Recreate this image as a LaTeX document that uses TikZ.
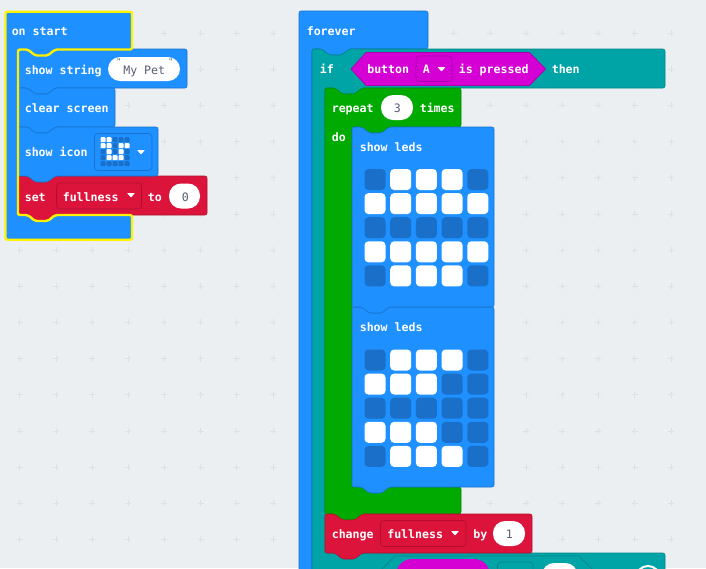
\documentclass[tikz,border=0pt]{standalone}
\usepackage{fontspec}
\setmonofont{DejaVu Sans Mono}
\definecolor{pagebg}{HTML}{ECEFF1}
\definecolor{gridplus}{HTML}{DDE0E2}
\definecolor{blockblue}{HTML}{1E90FF}
\definecolor{edgeblue}{HTML}{1873CC}
\definecolor{ledoff}{HTML}{1A6FC9}
\definecolor{blockred}{HTML}{DC143C}
\definecolor{edgered}{HTML}{B01030}
\definecolor{blockteal}{HTML}{00A4A6}
\definecolor{edgeteal}{HTML}{008385}
\definecolor{blockgreen}{HTML}{00AA00}
\definecolor{edgegreen}{HTML}{008800}
\definecolor{blockpink}{HTML}{D400D4}
\definecolor{edgepink}{HTML}{A900A9}
\definecolor{fieldgrey}{HTML}{575E75}
\tikzset{
	blocktext/.style={anchor=base west,inner sep=0pt,text=white,font=\ttfamily\bfseries\fontsize{8.7pt}{10pt}\selectfont},
	fieldtext/.style={blocktext,text=fieldgrey,font=\ttfamily\fontsize{8.7pt}{10pt}\selectfont},
	pillfield/.style={fill=white,rounded corners=9pt},
	dropbox/.style={rounded corners=2.5pt,line width=0.5pt},
	droparrow/.style={fill=white,rounded corners=0.5pt},
}
% stacked block: colour, edge colour, left, top, right, bottom
\newcommand{\stackblock}[6]{
	\draw[fill=#1,draw=#2,line width=0.4pt,rounded corners=1.5pt] (#3,#4) -- ({#3+10},#4) -- ({#3+17},{#4+6}) -- ({#3+30},{#4+6}) -- ({#3+37},#4) -- (#5,#4) -- (#5,#6) -- ({#3+37},#6) -- ({#3+30},{#6+6}) -- ({#3+17},{#6+6}) -- ({#3+10},#6) -- (#3,#6) -- cycle;
}
% led matrix: left centre, top centre, pitch x, pitch y, size, rows
\newcommand{\ledgrid}[6]{
	\foreach \ledrow [count=\r from 0] in {#6}
		\foreach \ledval [count=\c from 0] in \ledrow {
			\ifnum\ledval=1 \def\ledcol{white}\else\def\ledcol{ledoff}\fi
			\fill[rounded corners={#5*0.14pt},fill=\ledcol] ({#1+#3*\c-#5/2},{#2+#4*\r-#5/2}) rectangle ({#1+#3*\c+#5/2},{#2+#4*\r+#5/2});
		}
}
\begin{document}
\begin{tikzpicture}[x=0.75pt,y=-0.75pt]
	\useasboundingbox (0,0) rectangle (706,568);
	\clip (0,0) rectangle (706,568);
	\fill[pagebg] (0,0) rectangle (706,568);

	% workspace crosses
	\foreach \k in {0,...,18}
		\foreach \j in {0,...,14}
			\draw[gridplus,line width=0.4pt] ({19.7+36.17*\k-3},{33+36.17*\j}) -- ({19.7+36.17*\k+3},{33+36.17*\j}) ({19.7+36.17*\k},{33+36.17*\j-3}) -- ({19.7+36.17*\k},{33+36.17*\j+3});

	% on start
	\fill[blockblue,rounded corners=1.5pt] (5.5,11.7) -- (132,11.7) -- (132,49.5) -- (55,49.5) -- (48,55.5) -- (35,55.5) -- (28,49.5) -- (18,49.5) -- (18,215) -- (28,215) -- (35,221) -- (48,221) -- (55,215) -- (132,215) -- (132,239.7) -- (5.5,239.7) -- cycle;
	\node[blocktext] (onstart) at (11.5,35) {on start};

	\stackblock{blockblue}{edgeblue}{18}{49}{187}{88}
	\node[blocktext] (showstring) at (24.5,74) {show string};
	\fill[pillfield] (108,57) rectangle (180,81);
	\node[fieldtext] (mypet) at (123,74) {My Pet};
	\node[fieldtext,font=\ttfamily\fontsize{6pt}{6pt}\selectfont] (quoteleft) at (116.2,64) {"};
	\node[fieldtext,font=\ttfamily\fontsize{6pt}{6pt}\selectfont] (quoteright) at (168,64) {"};

	\stackblock{blockblue}{edgeblue}{18}{88}{115}{127}
	\node[blocktext] (clearscreen) at (24.5,112) {clear screen};

	\stackblock{blockred}{edgered}{18}{176}{207}{215}
	\stackblock{blockblue}{edgeblue}{18}{127}{158}{176}
	\node[blocktext] (showicon) at (24.5,156) {show icon};
	\draw[dropbox,draw=edgeblue] (94.5,133.5) rectangle (152,170.5);
	\ledgrid{103}{139.7}{6}{6}{5}{{1,1,0,0,0},{1,1,0,1,1},{0,1,0,1,0},{0,1,1,1,0},{0,0,0,0,0}}
	\fill[droparrow] (137,150) -- (145,150) -- (141,154.5) -- cycle;

	\node[blocktext] (setlabel) at (24.5,201) {set};
	\draw[dropbox,draw=edgered] (56.5,183) rectangle (141.5,209);
	\node[blocktext] (setvar) at (62.5,201) {fullness};
	\fill[droparrow] (127,193) -- (135,193) -- (131,197.5) -- cycle;
	\node[blocktext] (setto) at (147.5,201) {to};
	\fill[pillfield] (169,183.5) rectangle (200,208.5);
	\node[fieldtext] (setzero) at (181.5,201) {0};

	\draw[yellow,line width=1.8pt,rounded corners=1.5pt] (5.5,11.7) -- (132,11.7) -- (132,49.5) -- (55,49.5) -- (48,55.5) -- (35,55.5) -- (28,49.5) -- (18,49.5) -- (18,215) -- (28,215) -- (35,221) -- (48,221) -- (55,215) -- (132,215) -- (132,239.7) -- (5.5,239.7) -- cycle;

	% forever
	\draw[fill=blockblue,draw=edgeblue,line width=0.4pt,rounded corners=1.5pt] (299,11) -- (428,11) -- (428,49) -- (349,49) -- (342,55) -- (329,55) -- (322,49) -- (312,49) -- (312,600) -- (299,600) -- cycle;
	\node[blocktext] (forever) at (306.5,35) {forever};

	% if
	\draw[fill=blockteal,draw=edgeteal,line width=0.4pt,rounded corners=1.5pt] (312,49) -- (322,49) -- (329,55) -- (342,55) -- (349,49) -- (665,49) -- (665,88) -- (362,88) -- (355,94) -- (342,94) -- (335,88) -- (325,88) -- (325,553) -- (665,553) -- (665,600) -- (312,600) -- cycle;
	\node[blocktext] (iflabel) at (319.5,73) {if};
	\draw[fill=blockpink,draw=edgepink,line width=0.5pt] (351,69) -- (366,52.5) -- (529.5,52.5) -- (545.5,69) -- (529.5,85.5) -- (366,85.5) -- cycle;
	\node[blocktext] (button) at (367,73) {button};
	\draw[dropbox,draw=edgepink] (416,56) rectangle (452,81.5);
	\node[blocktext] (buttona) at (422.5,73) {A};
	\fill[droparrow] (437.5,67) -- (445.5,67) -- (441.5,71.5) -- cycle;
	\node[blocktext] (pressed) at (458.5,73) {is pressed};
	\node[blocktext] (then) at (551.5,73) {then};

	% repeat
	\draw[fill=blockgreen,draw=edgegreen,line width=0.4pt,rounded corners=1.5pt] (325,88) -- (335,88) -- (342,94) -- (355,94) -- (362,88) -- (461,88) -- (461,127) -- (389,127) -- (382,133) -- (369,133) -- (362,127) -- (352,127) -- (352,487) -- (461,487) -- (461,514) -- (362,514) -- (355,520) -- (342,520) -- (335,514) -- (325,514) -- cycle;
	\node[blocktext] (repeatlabel) at (331.5,112) {repeat};
	\fill[pillfield] (381,95) rectangle (413,120);
	\node[fieldtext] (repeatcount) at (393.5,112) {3};
	\node[blocktext] (times) at (419.5,112) {times};
	\node[blocktext] (dolabel) at (331.5,141) {do};

	% show leds
	\stackblock{blockblue}{edgeblue}{352}{307}{494}{487}
	\stackblock{blockblue}{edgeblue}{352}{127}{494}{307}
	\node[blocktext] (ledsone) at (359.5,151) {show leds};
	\ledgrid{375}{179.5}{25.7}{24.1}{21}{{0,1,1,1,0},{1,1,1,1,1},{0,0,0,0,0},{1,1,1,1,1},{0,1,1,1,0}}
	\node[blocktext] (ledstwo) at (359.5,331) {show leds};
	\ledgrid{375}{360}{25.7}{24.1}{21}{{0,1,1,1,0},{1,1,1,0,0},{0,0,0,0,0},{1,1,1,0,0},{0,1,1,1,0}}

	% change
	\stackblock{blockred}{edgered}{325}{514}{532}{553}
	\node[blocktext] (changelabel) at (331.5,538) {change};
	\draw[dropbox,draw=edgered] (380.5,520.5) rectangle (466,546.5);
	\node[blocktext] (changevar) at (387,538) {fullness};
	\fill[droparrow] (451,531) -- (459,531) -- (455,535.5) -- cycle;
	\node[blocktext] (bylabel) at (473,538) {by};
	\fill[pillfield] (493,521) rectangle (525,546);
	\node[fieldtext] (changeone) at (505.5,538) {1};

	% else if row, cut by the window
	\draw[fill=blockteal,draw=edgeteal,line width=0.4pt] (370,581) -- (395,556) -- (579,556) -- (604,581) -- cycle;
	\fill[blockpink,rounded corners=12pt] (396,559) rectangle (490,600);
	\draw[dropbox,draw=edgeteal] (497.5,562) rectangle (533,600);
	\fill[pillfield] (542,563) rectangle (577.5,600);
	\draw[white,line width=1.5pt] (648,578) circle (12);
\end{tikzpicture}
\end{document}
